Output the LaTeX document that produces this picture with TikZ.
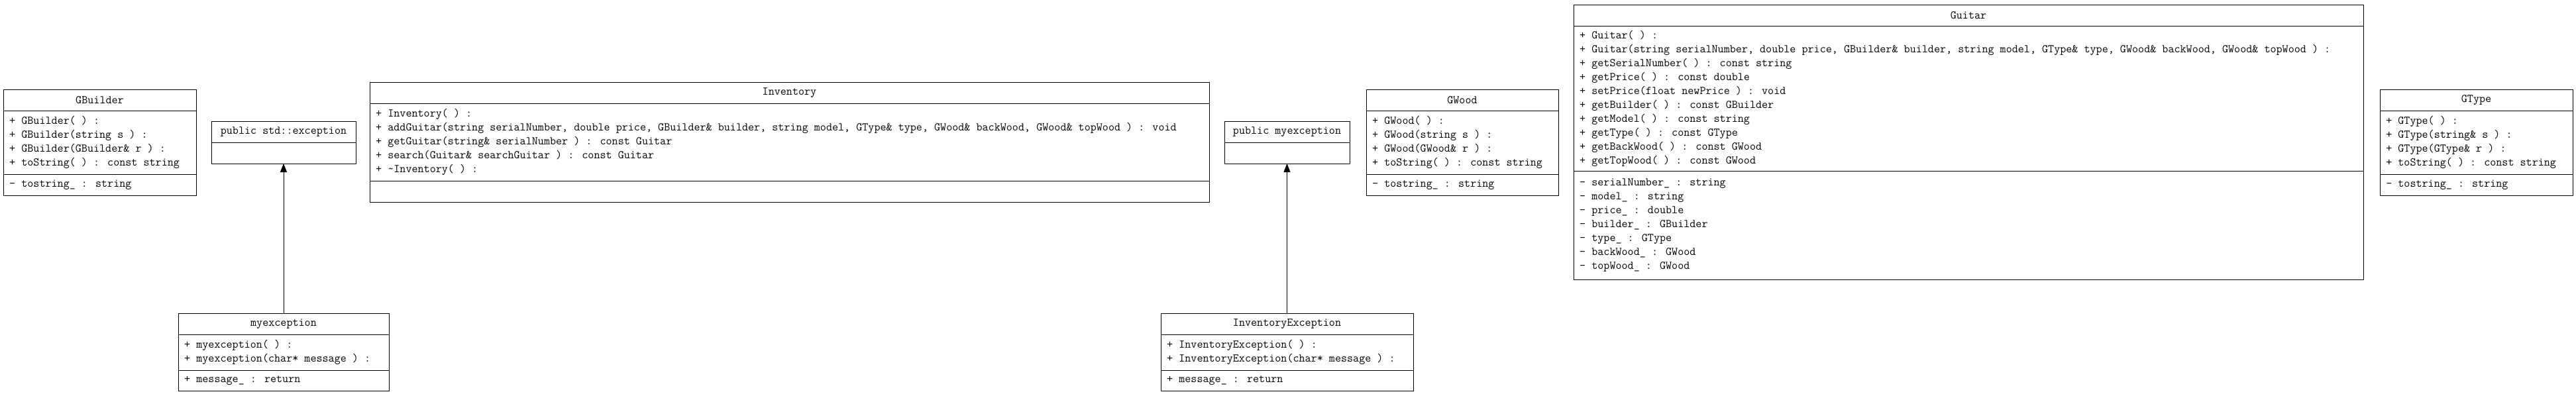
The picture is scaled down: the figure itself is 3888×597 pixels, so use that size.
\documentclass[tikz,border=0pt]{standalone}
\usepackage{fontspec}
\usetikzlibrary{arrows.meta,positioning}
\tikzset{
  compart/.style={draw,line width=1pt,minimum width=#1,inner sep=0pt,outer sep=0pt,
    anchor=north,font=\fontsize{17.6}{21}\selectfont\ttfamily},
  rows/.style={anchor=west,align=left,inner sep=0pt,font=\fontsize{17.6}{21}\selectfont\ttfamily},
  inherit/.style={-{Triangle[length=13pt,width=10pt]},line width=1pt},
}

\begin{document}
\begin{tikzpicture}[x=1pt,y=-1pt]
\useasboundingbox (0,0) rectangle (3888,597);
% ---------- GBuilder ----------
\node[compart=291,minimum height=32,anchor=north west] (gb) at (5,135) {GBuilder};
\node[compart=291,minimum height=96,below=0pt of gb] (gbOps) {};
\node[compart=291,minimum height=32,below=0pt of gbOps] (gbAtt) {};
\node[rows] (gbOpsTxt) at ([xshift=9]gbOps.west) {+ GBuilder( ) :\\+ GBuilder(string s ) :\\+ GBuilder(GBuilder\& r ) :\\+ toString( ) : const string};
\node[rows] (gbAttTxt) at ([xshift=9]gbAtt.west) {- tostring\_ : string};
% ---------- std::exception ----------
\node[compart=218,minimum height=32,anchor=north west] (stdexc) at (319,183) {public std::exception};
\node[compart=218,minimum height=32,below=0pt of stdexc] (stdexcBody) {};
% ---------- myexception ----------
\node[compart=318,minimum height=32,anchor=north west] (myexc) at (269,473) {myexception};
\node[compart=318,minimum height=54,below=0pt of myexc] (myexcOps) {};
\node[compart=318,minimum height=31,below=0pt of myexcOps] (myexcAtt) {};
\node[rows] (myexcOpsTxt) at ([xshift=9]myexcOps.west) {+ myexception( ) :\\+ myexception(char* message ) :};
\node[rows] (myexcAttTxt) at ([xshift=9]myexcAtt.west) {+ message\_ : return};
\draw[inherit] (myexc.north) -- (stdexcBody.south);
% ---------- Inventory ----------
\node[compart=1267,minimum height=32,anchor=north west] (inv) at (558,124) {Inventory};
\node[compart=1267,minimum height=117,below=0pt of inv] (invOps) {};
\node[compart=1267,minimum height=32,below=0pt of invOps] (invAtt) {};
\node[rows] (invOpsTxt) at ([xshift=9]invOps.west) {+ Inventory( ) :\\+ addGuitar(string serialNumber, double price, GBuilder\& builder, string model, GType\& type, GWood\& backWood, GWood\& topWood ) : void\\+ getGuitar(string\& serialNumber ) : const Guitar\\+ search(Guitar\& searchGuitar ) : const Guitar\\+ \textasciitilde Inventory( ) :};
% ---------- myexception (parent) ----------
\node[compart=189,minimum height=32,anchor=north west] (pubmy) at (1848,183) {public myexception};
\node[compart=189,minimum height=32,below=0pt of pubmy] (pubmyBody) {};
% ---------- InventoryException ----------
\node[compart=381,minimum height=32,anchor=north west] (invexc) at (1752,473) {InventoryException};
\node[compart=381,minimum height=54,below=0pt of invexc] (invexcOps) {};
\node[compart=381,minimum height=31,below=0pt of invexcOps] (invexcAtt) {};
\node[rows] (invexcOpsTxt) at ([xshift=9]invexcOps.west) {+ InventoryException( ) :\\+ InventoryException(char* message ) :};
\node[rows] (invexcAttTxt) at ([xshift=9]invexcAtt.west) {+ message\_ : return};
\draw[inherit] (invexc.north) -- (pubmyBody.south);
% ---------- GWood ----------
\node[compart=290,minimum height=32,anchor=north west] (gw) at (2062,135) {GWood};
\node[compart=290,minimum height=96,below=0pt of gw] (gwOps) {};
\node[compart=290,minimum height=32,below=0pt of gwOps] (gwAtt) {};
\node[rows] (gwOpsTxt) at ([xshift=9]gwOps.west) {+ GWood( ) :\\+ GWood(string s ) :\\+ GWood(GWood\& r ) :\\+ toString( ) : const string};
\node[rows] (gwAttTxt) at ([xshift=9]gwAtt.west) {- tostring\_ : string};
% ---------- Guitar ----------
\node[compart=1192,minimum height=32,anchor=north west] (gt) at (2375,7) {Guitar};
\node[compart=1192,minimum height=219,below=0pt of gt] (gtOps) {};
\node[compart=1192,minimum height=164,below=0pt of gtOps] (gtAtt) {};
\node[rows] (gtOpsTxt) at ([xshift=9]gtOps.west) {+ Guitar( ) :\\+ Guitar(string serialNumber, double price, GBuilder\& builder, string model, GType\& type, GWood\& backWood, GWood\& topWood ) :\\+ getSerialNumber( ) : const string\\+ getPrice( ) : const double\\+ setPrice(float newPrice ) : void\\+ getBuilder( ) : const GBuilder\\+ getModel( ) : const string\\+ getType( ) : const GType\\+ getBackWood( ) : const GWood\\+ getTopWood( ) : const GWood};
\node[rows] (gtAttTxt) at ([xshift=9]gtAtt.west) {- serialNumber\_ : string\\- model\_ : string\\- price\_ : double\\- builder\_ : GBuilder\\- type\_ : GType\\- backWood\_ : GWood\\- topWood\_ : GWood};
% ---------- GType ----------
\node[compart=291,minimum height=32,anchor=north west] (gty) at (3592,135) {GType};
\node[compart=291,minimum height=96,below=0pt of gty] (gtyOps) {};
\node[compart=291,minimum height=32,below=0pt of gtyOps] (gtyAtt) {};
\node[rows] (gtyOpsTxt) at ([xshift=9]gtyOps.west) {+ GType( ) :\\+ GType(string\& s ) :\\+ GType(GType\& r ) :\\+ toString( ) : const string};
\node[rows] (gtyAttTxt) at ([xshift=9]gtyAtt.west) {- tostring\_ : string};
\end{tikzpicture}
\end{document}
